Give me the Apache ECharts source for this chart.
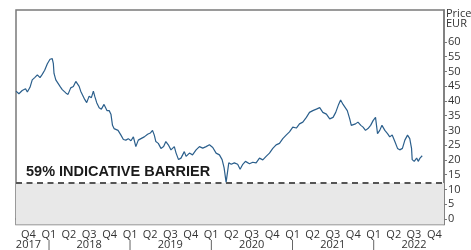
<!DOCTYPE html>
<html>
<head>
<meta charset="utf-8">
<script src="https://cdn.jsdelivr.net/npm/echarts@6/dist/echarts.min.js"></script>
<style>
  html, body { margin: 0; padding: 0; background: #fff; }
  #chart { width: 471px; height: 250px; }
</style>
</head>
<body>
<div id="chart"></div>
<script>
// share price (EUR)
var dates = [
  '2017-08-06', '2017-08-19', '2017-09-03', '2017-09-18', '2017-09-26', '2017-10-08', '2017-10-18', '2017-10-29',
  '2017-11-10', '2017-11-22', '2017-12-02', '2017-12-13', '2017-12-25', '2018-01-06', '2018-01-16', '2018-01-21',
  '2018-01-24', '2018-02-01', '2018-02-08', '2018-02-20', '2018-03-02', '2018-03-18', '2018-03-28', '2018-04-09',
  '2018-04-21', '2018-05-02', '2018-05-09', '2018-05-17', '2018-05-24', '2018-06-01', '2018-06-11', '2018-06-20',
  '2018-07-01', '2018-07-11', '2018-07-20', '2018-07-26', '2018-08-04', '2018-08-15', '2018-08-25', '2018-09-06',
  '2018-09-19', '2018-09-29', '2018-10-07', '2018-10-14', '2018-10-21', '2018-10-29', '2018-11-08', '2018-11-21',
  '2018-12-02', '2018-12-13', '2018-12-24', '2019-01-05', '2019-01-16', '2019-01-27', '2019-02-07', '2019-02-19',
  '2019-03-06', '2019-03-21', '2019-04-02', '2019-04-12', '2019-04-20', '2019-04-27', '2019-05-08', '2019-05-20',
  '2019-06-01', '2019-06-11', '2019-06-22', '2019-07-04', '2019-07-19', '2019-07-27', '2019-08-07', '2019-08-18',
  '2019-09-02', '2019-09-10', '2019-09-25', '2019-10-09', '2019-10-25', '2019-11-09', '2019-11-24', '2019-12-09',
  '2019-12-24', '2020-01-08', '2020-01-23', '2020-02-07', '2020-02-19', '2020-02-28', '2020-03-08', '2020-03-13',
  '2020-03-20', '2020-03-31', '2020-04-14', '2020-04-29', '2020-05-10', '2020-05-22', '2020-06-03', '2020-06-21',
  '2020-07-06', '2020-07-21', '2020-08-05', '2020-08-20', '2020-09-04', '2020-09-19', '2020-10-04', '2020-10-19',
  '2020-11-03', '2020-11-18', '2020-12-03', '2020-12-18', '2021-01-02', '2021-01-18', '2021-02-01', '2021-02-16',
  '2021-03-04', '2021-03-18', '2021-04-02', '2021-04-18', '2021-05-03', '2021-05-17', '2021-06-02', '2021-06-17',
  '2021-07-02', '2021-07-14', '2021-07-27', '2021-08-05', '2021-08-16', '2021-08-23', '2021-09-04', '2021-09-15',
  '2021-09-22', '2021-09-30', '2021-10-11', '2021-10-22', '2021-11-04', '2021-11-14', '2021-11-25', '2021-12-06',
  '2021-12-18', '2021-12-29', '2022-01-09', '2022-01-18', '2022-01-28', '2022-02-07', '2022-02-20', '2022-03-04',
  '2022-03-14', '2022-03-25', '2022-04-06', '2022-04-18', '2022-04-28', '2022-05-10', '2022-05-21', '2022-06-02',
  '2022-06-12', '2022-06-20', '2022-06-23', '2022-07-02', '2022-07-13', '2022-07-20', '2022-07-28', '2022-08-07'
];
var prices = [
  43.3, 42.4, 43.5, 44.1, 43.0, 44.6, 47.1, 47.9,
  48.8, 47.9, 49.0, 50.4, 52.6, 54.1, 54.3, 52.6,
  49.3, 47.1, 46.6, 44.9, 43.8, 42.7, 42.2, 44.4,
  44.9, 46.6, 46.0, 44.9, 43.3, 43.8, 40.5, 39.4,
  41.6, 41.1, 43.3, 41.6, 39.4, 37.7, 37.2, 38.8,
  36.7, 36.7, 35.5, 31.7, 30.6, 30.0, 30.0, 28.4,
  26.9, 26.7, 27.2, 26.5, 27.8, 24.5, 26.7, 27.2,
  27.8, 28.7, 29.1, 30.0, 28.4, 26.2, 25.6, 23.9,
  24.5, 26.2, 25.1, 23.4, 24.5, 22.3, 20.1, 20.6,
  22.8, 21.2, 22.3, 21.7, 23.4, 24.5, 24.0, 24.5,
  25.1, 24.2, 22.3, 21.7, 20.1, 17.3, 12.4, 13.0,
  19.0, 18.5, 19.0, 18.5, 16.8, 18.5, 19.5, 18.7,
  19.2, 19.0, 20.6, 20.0, 21.2, 22.3, 23.9, 25.1,
  25.6, 27.2, 28.4, 29.5, 31.1, 30.8, 32.2, 32.8,
  34.4, 36.1, 36.7, 37.2, 37.7, 36.1, 35.5, 33.9,
  34.4, 36.1, 38.8, 40.3, 38.8, 38.2, 36.7, 33.9,
  31.7, 31.1, 32.2, 32.8, 31.7, 31.1, 30.0, 30.6,
  31.7, 33.3, 34.4, 28.9, 30.0, 31.7, 30.0, 28.9,
  27.8, 28.4, 26.2, 23.9, 23.4, 23.9, 26.7, 28.4,
  27.2, 23.9, 20.1, 19.5, 20.6, 19.5, 20.6, 21.4
];
var barrierLevel = 12.2;
var barrierText = '59% INDICATIVE BARRIER';
var yTicks = [0, 5, 10, 15, 20, 25, 30, 35, 40, 45, 50, 55, 60];
var quarterTicks = [
  '2017-10-01',
  '2018-01-01', '2018-04-01', '2018-07-01', '2018-10-01',
  '2019-01-01', '2019-04-01', '2019-07-01', '2019-10-01',
  '2020-01-01', '2020-04-01', '2020-07-01', '2020-10-01',
  '2021-01-01', '2021-04-01', '2021-07-01', '2021-10-01',
  '2022-01-01', '2022-04-01', '2022-07-01', '2022-10-01'
];
var xStart = '2017-08-06';
var xEnd = '2022-11-13';
var yMin = -1.9;
var yMax = 70.8;

function toTime(s) {
  var p = s.split('-');
  return Date.UTC(+p[0], +p[1] - 1, +p[2]);
}

// quarter names, with the year under Q3 (Q4 for 2017) and a mark under Q1
function quarterLabel(v) {
  var d = new Date(v);
  var q = Math.floor(d.getUTCMonth() / 3) + 1;
  var yr = d.getUTCFullYear();
  if (q == 1) return 'Q1\n|';
  if (q == 3 || (q == 4 && yr == 2017)) return 'Q' + q + '\n' + yr;
  return 'Q' + q + '\n';
}

var seriesData = dates.map(function (d, i) { return [toTime(d), prices[i]]; });

var option = {
  animation: false,
  textStyle: { fontFamily: 'Open Sans' },
  title: {
    text: 'Price\nEUR',
    left: 446,
    top: 9,
    padding: 0,
    textStyle: { fontSize: 11, fontWeight: 'normal', color: '#333', lineHeight: 10 }
  },
  grid: {
    left: 16,
    right: 27,
    top: 10,
    bottom: 20,
    show: true,
    borderColor: '#7a7a7a',
    borderWidth: 1.5,
    backgroundColor: '#fff'
  },
  xAxis: {
    type: 'value',
    min: toTime(xStart),
    max: toTime(xEnd),
    splitLine: { show: false },
    axisLine: { lineStyle: { color: '#7a7a7a', width: 1.5 } },
    axisTick: { show: false },
    axisLabel: {
      customValues: quarterTicks.map(toTime),
      formatter: quarterLabel,
      fontSize: 11,
      lineHeight: 10,
      color: '#333',
      margin: 5,
      hideOverlap: false
    }
  },
  yAxis: {
    type: 'value',
    position: 'right',
    min: yMin,
    max: yMax,
    splitLine: { show: false },
    axisLine: { show: true, lineStyle: { color: '#7a7a7a', width: 1.5 } },
    axisTick: { show: true, customValues: yTicks, length: 3, lineStyle: { color: '#7a7a7a' } },
    axisLabel: { customValues: yTicks, fontSize: 11, color: '#333', margin: 4 }
  },
  series: [
    {
      type: 'line',
      data: seriesData,
      showSymbol: false,
      lineStyle: { color: '#2b5f8c', width: 1.2 },
      markArea: {
        silent: true,
        itemStyle: { color: '#e8e8e8' },
        data: [[{ yAxis: yMin }, { yAxis: barrierLevel }]]
      },
      markLine: {
        silent: true,
        symbol: 'none',
        lineStyle: { color: '#555', type: [6, 4.5], width: 2 },
        label: {
          position: 'insideStartTop',
          formatter: barrierText,
          fontFamily: 'Liberation Sans',
          fontWeight: 'bold',
          fontSize: 14.5,
          color: '#1a1a1a',
          distance: [10, 3]
        },
        data: [{ yAxis: barrierLevel }]
      }
    }
  ]
};

var chart = echarts.init(document.getElementById('chart'));
chart.setOption(option);
</script>
</body>
</html>
